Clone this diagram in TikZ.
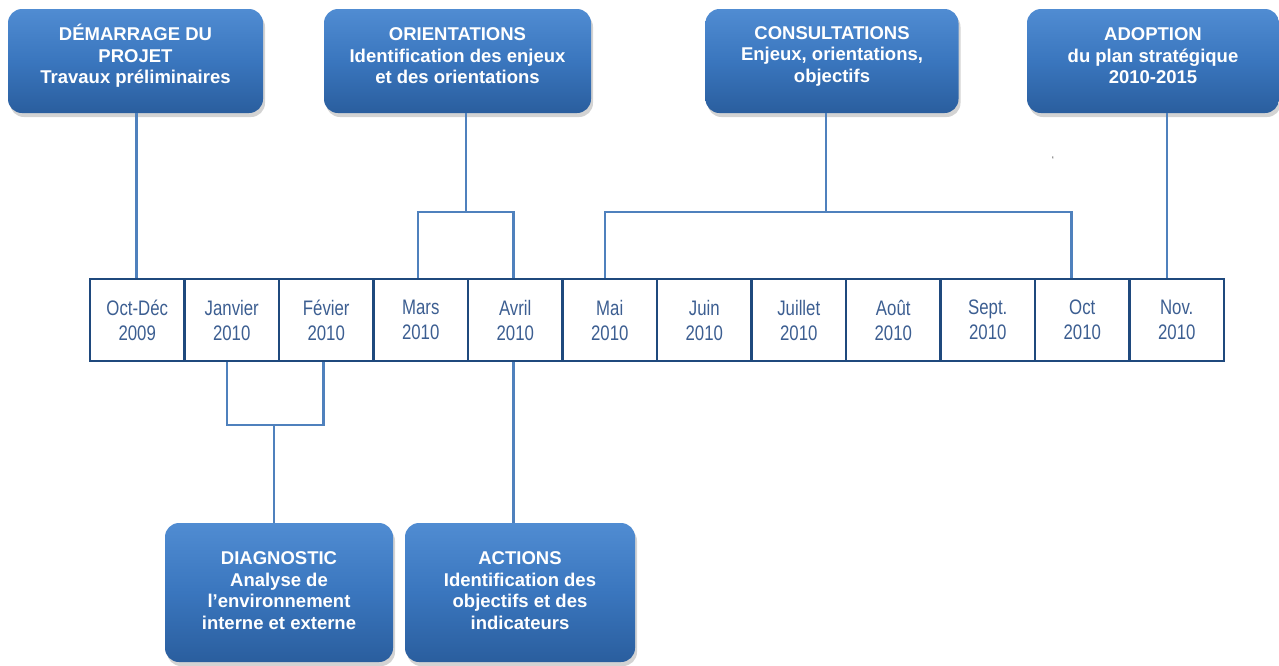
\documentclass[tikz,border=0pt]{standalone}
\usepackage{fontspec}
\setmainfont{Liberation Sans}
\newfontfamily\narrowfont[FakeStretch=0.8]{Liberation Sans}
\usetikzlibrary{shadows,calc}
\definecolor{boxtop}{RGB}{80,140,210}
\definecolor{boxmid}{RGB}{58,118,190}
\definecolor{boxbot}{RGB}{42,94,158}
\definecolor{linec}{RGB}{79,129,189}
\definecolor{cellborder}{RGB}{31,73,125}
\definecolor{celltext}{RGB}{60,94,145}
\begin{document}
\begin{tikzpicture}[x=1pt,y=-1pt,
  phase/.style={rounded corners=14pt, top color=boxtop, bottom color=boxbot, middle color=boxmid,
    drop shadow={shadow xshift=2pt,shadow yshift=-4pt,opacity=0.35}, inner sep=0pt},
  phasetext/.style={text=white, font=\bfseries\fontsize{18.5}{21.5}\selectfont, align=center, inner sep=0pt},
  cell/.style={draw=cellborder, line width=2.6pt, minimum width=94.5pt, minimum height=82pt,
    inner sep=0pt, text=celltext, font=\narrowfont\fontsize{21}{25}\selectfont, align=center},
  conn/.style={draw=linec, line width=2.5pt}]
\useasboundingbox (0,0) rectangle (1279,665);

% top phase boxes
\node[phase, minimum width=255pt, minimum height=104pt] (b1) at (135.5,61) {};
\node[phase, minimum width=267pt, minimum height=104pt] (b2) at (457.5,61) {};
\node[phase, minimum width=253pt, minimum height=104pt] (b3) at (832,61) {};
\node[phase, minimum width=252pt, minimum height=104pt] (b4) at (1153,61) {};
\node[phasetext] (b1t) at (135.5,56) {DÉMARRAGE DU\\PROJET\\Travaux préliminaires};
\node[phasetext] (b2t) at (457.5,56) {ORIENTATIONS\\Identification des enjeux\\et des orientations};
\node[phasetext] (b3t) at (832,56) {CONSULTATIONS\\Enjeux, orientations,\\objectifs};
\node[phasetext] (b4t) at (1153,56) {ADOPTION\\du plan stratégique\\2010-2015};

% bottom phase boxes
\node[phase, minimum width=228pt, minimum height=139pt] (d) at (279,592.5) {};
\node[phase, minimum width=230pt, minimum height=139pt] (a) at (520,592.5) {};
\node[phasetext] (dt) at (279,590.5) {DIAGNOSTIC\\Analyse de\\l’environnement\\interne et externe};
\node[phasetext] (at) at (520,590.5) {ACTIONS\\Identification des\\objectifs et des\\indicateurs};

% connector coordinates
\coordinate (o) at (466,212);
\coordinate (k) at (826,212);
\coordinate (g) at (274,425);

% timeline cell positions
\path (137.25,320) coordinate (p1) (231.75,320) coordinate (p2) (326.25,320) coordinate (p3)
      (420.75,320) coordinate (p4) (515.25,320) coordinate (p5) (609.75,320) coordinate (p6)
      (704.25,320) coordinate (p7) (798.75,320) coordinate (p8) (893.25,320) coordinate (p9)
      (987.75,320) coordinate (p10) (1082.25,320) coordinate (p11) (1176.75,320) coordinate (p12);

% connector end points on the timeline
\coordinate (t1) at ($(p1)+(-1,-41)$);
\coordinate (t4) at ($(p4)+(-3,-41)$);
\coordinate (t5) at ($(p5)+(-2,-41)$);
\coordinate (t6) at ($(p6)+(-5,-41)$);
\coordinate (t11) at ($(p11)+(-11,-41)$);
\coordinate (t12) at ($(p12)+(-10,-41)$);
\coordinate (u2) at ($(p2)+(-5,41)$);
\coordinate (u3) at ($(p3)+(-3,41)$);
\coordinate (u5) at ($(p5)+(-2,41)$);

% connectors (drawn first, under the cells)
\draw[conn] (t1 |- b1.south) -- (t1);
\draw[conn] (o |- b2.south) -- (o);
\draw[conn] (t4) |- (o) -| (t5);
\draw[conn] (k |- b3.south) -- (k);
\draw[conn] (t6) |- (k) -| (t11);
\draw[conn] (t12) -- (t12 |- b4.south);
\draw[conn] (u2) |- (g) -| (u3);
\draw[conn] (g) -- (g |- d.north);
\draw[conn] (u5) -- (u5 |- a.north);

\node[cell] (c1) at (p1) {Oct-Déc\\2009};
\node[cell] (c2) at (p2) {Janvier\\2010};
\node[cell] (c3) at (p3) {Févier\\2010};
\node[cell] (c4) at (p4) {Mars\\2010};
\node[cell] (c5) at (p5) {Avril\\2010};
\node[cell] (c6) at (p6) {Mai\\2010};
\node[cell] (c7) at (p7) {Juin\\2010};
\node[cell] (c8) at (p8) {Juillet\\2010};
\node[cell] (c9) at (p9) {Août\\2010};
\node[cell] (c10) at (p10) {Sept.\\2010};
\node[cell] (c11) at (p11) {Oct\\2010};
\node[cell] (c12) at (p12) {Nov.\\2010};

% stray mark
\node[text=black!70, font=\fontsize{10}{10}\selectfont, inner sep=0pt] (tick) at (1053,160) {`};
\end{tikzpicture}
\end{document}
